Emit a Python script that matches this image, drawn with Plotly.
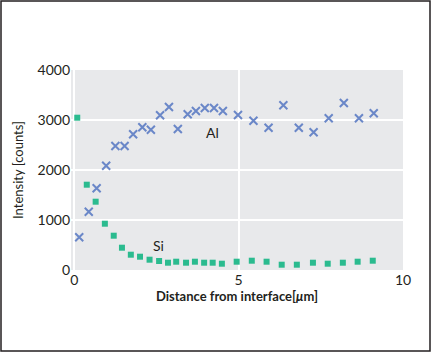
import plotly.graph_objects as go

al_x = [0.15, 0.44, 0.68, 0.97, 1.25, 1.53, 1.79, 2.07, 2.33, 2.61, 2.88, 3.15, 3.45, 3.70,
        3.97, 4.25, 4.52, 4.98, 5.45, 5.91, 6.36, 6.83, 7.28, 7.74, 8.20, 8.66, 9.11]
al_y = [654, 1166, 1634, 2086, 2480, 2480, 2714, 2854, 2806, 3094, 3260, 2820, 3114, 3180,
        3240, 3240, 3180, 3100, 2986, 2846, 3294, 2846, 2754, 3034, 3340, 3034, 3134]
si_x = [0.09, 0.38, 0.65, 0.93, 1.20, 1.45, 1.72, 2.00, 2.29, 2.58, 2.85, 3.10, 3.40, 3.67,
        3.95, 4.21, 4.49, 4.94, 5.40, 5.85, 6.31, 6.77, 7.26, 7.71, 8.17, 8.62, 9.08]
si_y = [3046, 1706, 1366, 926, 686, 446, 306, 266, 206, 180, 146, 166, 146, 166,
        146, 146, 126, 166, 186, 166, 106, 106, 146, 126, 146, 166, 186]

x_ticks = [0, 5, 10]
y_ticks = [0, 1000, 2000, 3000, 4000]

FONT = "Lato"
TXT = "#231f20"

fig = go.Figure()
fig.add_trace(go.Scatter(x=al_x, y=al_y, mode="markers", name="Al",
                         marker=dict(symbol="x-thin", size=8, color="#6a87c8",
                                     line=dict(width=2, color="#6a87c8"))))
fig.add_trace(go.Scatter(x=si_x, y=si_y, mode="markers", name="Si",
                         marker=dict(symbol="square", size=6, color="#2bbb8f")))

fig.add_annotation(x=4.19, y=2760, text="Al", showarrow=False,
                   font=dict(family=FONT, size=14, color=TXT))
fig.add_annotation(x=2.55, y=500, text="Si", showarrow=False,
                   font=dict(family=FONT, size=14, color=TXT))

fig.add_shape(type="rect", xref="paper", yref="paper",
              x0=(1 - 71) / 332, x1=(430 - 71) / 332,
              y0=(270 - 351) / 200, y1=(270 - 1) / 200,
              line=dict(color="#231f20", width=1.5))

fig.update_layout(
    width=431, height=352,
    margin=dict(l=71, r=28, t=70, b=82),
    paper_bgcolor="white", plot_bgcolor="#e8e9eb",
    showlegend=False,
    font=dict(family=FONT, size=14, color=TXT),
    xaxis=dict(range=[-0.1, 10], tickvals=x_ticks, showgrid=True, gridcolor="white",
               gridwidth=1.5, zeroline=False, showline=False, ticks="",
               title=dict(text="<b>Distance from interface[<i>μ</i>m]</b>",
                          font=dict(family=FONT, size=13, color=TXT), standoff=3),
               tickfont=dict(family=FONT, size=14, color=TXT)),
    yaxis=dict(range=[0, 4000], tickvals=y_ticks, showgrid=True, gridcolor="white",
               gridwidth=1.5, zeroline=False, showline=False, ticks="",
               title=dict(text="Intensity [counts]",
                          font=dict(family=FONT, size=13, color=TXT), standoff=10),
               tickfont=dict(family=FONT, size=14, color=TXT)),
)

fig.write_html("out.html")
